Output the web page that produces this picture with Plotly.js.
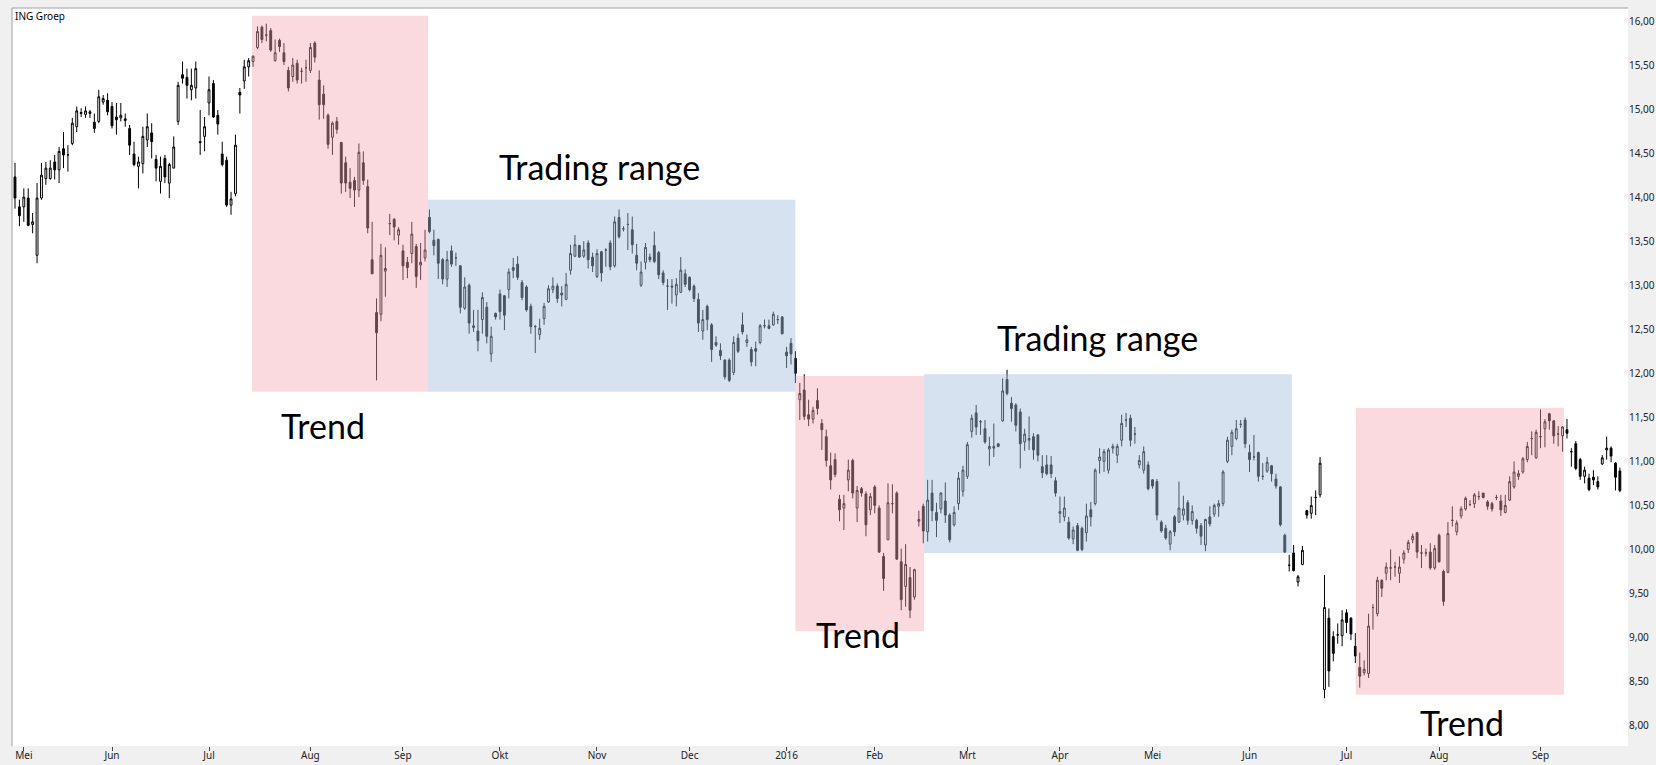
<!DOCTYPE html>
<html>
<head>
<meta charset="utf-8">
<script src="https://cdn.plot.ly/plotly-3.0.1.min.js"></script>
<style>html,body{margin:0;padding:0;background:#f0f0f0;}#chart{width:1656px;height:765px;}</style>
</head>
<body>
<div id="chart"></div>
<script>
// ---- DATA (ING Groep daily candles) ----
const seriesName = 'ING Groep';
const startDate = '2015-04-29';
const holidays = ['2015-05-01','2015-12-25','2016-01-01','2016-03-25','2016-03-28'];

const openPrices = [
14.23,13.89,13.89,13.99,13.69,13.34,13.99,14.21,14.21,14.40,
14.31,14.55,14.48,14.61,14.80,14.95,14.94,14.95,14.85,14.86,
15.08,15.10,15.03,14.91,14.90,14.87,14.78,14.49,14.35,14.38,
14.65,14.73,14.43,14.18,14.44,14.16,14.33,14.86,15.39,15.36,
15.22,15.24,14.63,14.69,15.07,15.29,14.93,14.49,14.42,13.91,
14.04,15.19,15.32,15.48,15.54,
15.70,15.93,15.84,15.89,15.55,
15.78,15.64,15.44,15.37,15.52,15.43,15.47,15.44,15.75,15.33,
15.17,14.93,14.68,14.86,14.62,14.39,14.17,14.19,14.08,14.39,
14.12,13.29,12.69,12.67,13.16,13.70,13.75,13.57,13.39,13.26,
13.36,13.44,13.23,13.31,13.77,13.51,13.52,13.29,13.07,13.39,
13.31,13.22,12.74,13.00,12.52,12.48,12.61,12.75,12.22,12.68,
12.90,12.88,12.95,13.20,13.24,13.03,12.98,12.76,12.53,12.44,
12.62,12.81,12.95,12.99,12.91,12.84,13.17,13.33,13.45,13.33,
13.48,13.32,13.10,13.38,13.40,13.48,13.22,13.77,13.64,13.69,
13.63,13.34,13.00,13.26,13.32,13.45,13.37,13.14,12.99,12.99,
12.89,12.92,13.13,13.09,12.99,12.84,12.48,12.76,12.55,12.35,
12.26,12.15,12.15,12.01,12.40,12.55,12.35,12.27,12.28,12.35,
12.54,12.54,12.55,12.61,12.64,12.24,12.34,12.17,11.70,11.81,
11.53,11.48,11.69,11.43,11.28,10.95,11.02,10.57,10.47,10.79,
11.01,10.47,10.69,10.63,10.45,10.71,10.47,9.92,10.11,10.52,
10.64,9.86,9.58,9.68,9.46,10.32,10.49,10.20,10.64,10.42,
10.46,10.55,10.39,10.28,10.52,10.66,10.83,11.34,11.55,11.45,
11.37,11.14,11.15,11.20,11.46,11.93,11.66,11.64,11.56,11.22,
11.24,11.28,11.30,10.94,10.96,10.96,10.78,10.41,10.37,10.31,
10.12,10.27,10.24,10.19,10.45,10.52,11.01,11.00,10.90,11.15,
11.07,11.24,11.47,11.49,11.31,10.96,10.90,10.96,10.79,10.77,
10.31,10.24,10.06,10.37,10.31,10.39,10.53,10.33,10.33,10.27,
10.05,10.37,10.40,10.49,10.52,11.00,11.17,11.26,11.42,11.47,
11.10,11.05,11.10,10.83,10.89,10.95,10.80,10.71,10.16,9.82,
9.96,9.63,9.83,10.44,10.41,10.59,10.62,8.41,9.22,9.01,
9.03,9.02,9.28,9.22,8.90,8.66,8.60,8.59,9.34,9.27,
9.65,9.73,9.79,9.80,9.73,9.89,10.00,10.11,10.19,9.96,
9.96,9.97,9.79,10.16,9.75,9.74,10.33,10.20,10.38,10.46,
10.51,10.52,10.60,10.64,10.54,10.52,10.59,10.55,10.42,10.56,
10.71,10.83,10.88,11.02,11.26,11.04,11.28,11.37,11.54,11.46,
11.31,11.29,11.36,11.11,11.20,11.02,10.83,10.81,10.82,10.77,
10.97,11.13,11.15,10.98,10.89
];

const highPrices = [
14.39,13.97,14.10,14.10,13.82,14.16,14.39,14.40,14.42,14.48,
14.57,14.74,14.59,14.90,15.03,15.01,15.03,14.99,14.95,15.22,
15.16,15.18,15.08,15.07,15.07,14.95,14.82,14.63,14.46,14.80,
14.95,14.84,14.48,14.46,14.48,14.39,14.69,15.31,15.54,15.46,
15.46,15.54,14.99,14.91,15.37,15.33,14.99,14.63,14.46,14.06,
14.71,15.24,15.56,15.58,15.61,
15.94,15.95,15.97,15.92,15.79,
15.80,15.75,15.48,15.58,15.56,15.47,15.56,15.75,15.77,15.44,
15.27,14.95,14.86,14.91,14.63,14.46,14.33,14.23,14.61,14.52,
14.20,13.72,12.85,13.47,13.43,13.81,13.76,13.66,13.46,13.32,
13.72,13.47,13.48,13.63,13.86,13.63,13.53,13.31,13.39,13.45,
13.37,13.23,13.09,13.02,12.72,12.72,12.92,12.81,12.53,12.69,
12.95,12.89,13.19,13.31,13.33,13.06,13.00,12.79,12.55,12.62,
12.80,13.00,13.09,13.02,12.99,13.14,13.46,13.57,13.46,13.50,
13.51,13.37,13.41,13.39,13.42,13.51,13.78,13.86,13.67,13.82,
13.78,13.47,13.27,13.48,13.36,13.61,13.39,13.17,13.07,13.07,
13.08,13.32,13.18,13.10,13.01,12.91,12.72,12.78,12.57,12.42,
12.34,12.16,12.17,12.42,12.45,12.69,12.44,12.30,12.36,12.56,
12.61,12.61,12.70,12.66,12.65,12.30,12.40,12.25,11.89,11.99,
11.70,11.62,11.83,11.48,11.36,11.10,11.09,10.62,10.62,11.02,
11.03,10.72,10.71,10.66,10.64,10.73,10.50,9.96,10.75,10.74,
10.66,10.01,10.06,9.80,9.78,10.44,10.52,10.79,10.79,10.53,
10.65,10.76,10.41,10.49,10.88,10.95,11.22,11.53,11.64,11.47,
11.47,11.28,11.43,11.20,11.94,12.04,11.73,11.66,11.60,11.37,
11.51,11.32,11.31,11.07,11.07,11.06,10.82,10.60,10.60,10.37,
10.26,10.30,10.26,10.52,10.54,10.92,11.15,11.14,11.15,11.20,
11.20,11.53,11.55,11.53,11.39,11.07,11.17,11.00,10.80,10.80,
10.33,10.28,10.22,10.39,10.77,10.61,10.56,10.50,10.35,10.30,
10.35,10.49,10.52,10.56,10.90,11.28,11.36,11.47,11.47,11.50,
11.19,11.30,11.11,10.98,11.05,10.96,10.86,10.72,10.18,9.94,
10.05,9.71,10.04,10.45,10.60,10.67,11.05,9.71,9.33,9.07,
9.16,9.31,9.32,9.23,9.05,8.83,8.74,9.27,9.38,9.69,
9.66,9.85,10.00,9.86,9.92,9.99,10.11,10.18,10.20,10.05,
10.01,10.07,10.05,10.18,9.77,10.31,10.49,10.33,10.49,10.60,
10.56,10.64,10.66,10.64,10.56,10.54,10.62,10.62,10.62,10.83,
11.00,10.90,11.05,11.22,11.34,11.36,11.59,11.48,11.55,11.47,
11.40,11.40,11.48,11.15,11.23,11.04,10.94,10.86,10.90,10.83,
11.07,11.28,11.17,10.99,10.93
];

const lowPrices = [
13.87,13.67,13.72,13.67,13.59,13.25,13.97,14.14,14.20,14.20,
14.16,14.33,14.29,14.59,14.74,14.91,14.90,14.90,14.73,14.84,
15.05,14.93,14.78,14.71,14.86,14.80,14.48,14.35,14.10,14.27,
14.57,14.44,14.18,14.04,14.16,13.99,14.33,14.82,15.29,15.12,
15.10,15.12,14.48,14.52,14.93,14.90,14.71,14.35,13.89,13.80,
14.01,14.95,15.23,15.37,15.48,
15.68,15.75,15.77,15.65,15.54,
15.65,15.50,15.20,15.31,15.29,15.29,15.31,15.41,15.53,14.88,
14.89,14.55,14.48,14.72,14.04,14.06,13.99,13.89,14.00,14.14,
13.59,13.13,11.92,12.59,12.87,13.57,13.51,13.46,13.06,13.08,
13.25,12.97,13.06,13.27,13.59,13.34,13.07,13.01,12.98,13.21,
13.22,12.68,12.72,12.45,12.47,12.25,12.45,12.34,12.13,12.61,
12.61,12.49,12.85,13.08,13.06,12.83,12.70,12.45,12.23,12.38,
12.55,12.80,12.91,12.80,12.76,12.83,13.12,13.32,13.31,13.31,
13.19,13.15,13.08,13.04,13.21,13.17,13.20,13.53,13.61,13.40,
13.36,13.17,12.98,13.18,13.26,13.25,13.07,13.00,12.72,12.79,
12.76,12.91,12.98,12.93,12.81,12.47,12.38,12.49,12.13,12.30,
12.15,11.93,11.90,11.98,12.23,12.44,12.30,12.08,12.08,12.33,
12.51,12.50,12.54,12.56,12.44,12.06,12.10,11.89,11.47,11.47,
11.40,11.43,11.53,11.13,10.94,10.68,10.82,10.32,10.22,10.66,
10.58,10.31,10.60,10.15,10.39,10.41,9.96,9.53,10.11,10.41,
9.88,9.31,9.35,9.22,9.43,10.26,10.07,10.09,10.32,10.14,
10.41,10.30,10.08,10.26,10.45,10.60,10.80,11.27,11.30,11.30,
11.20,10.95,11.05,11.16,11.45,11.75,11.45,11.34,10.92,11.12,
11.13,11.02,11.00,10.81,10.84,10.81,10.60,10.30,10.32,10.11,
10.06,9.98,9.98,10.09,10.26,10.50,10.86,10.88,10.86,11.09,
10.98,11.17,11.39,11.17,11.20,10.92,10.86,10.67,10.69,10.33,
10.19,10.11,9.99,10.15,10.30,10.33,10.28,10.28,10.18,10.05,
9.98,10.26,10.37,10.37,10.49,10.98,11.07,11.24,11.38,11.15,
10.88,11.01,10.77,10.79,10.87,10.77,10.69,10.26,9.96,9.75,
9.75,9.58,9.82,10.35,10.35,10.39,10.59,8.31,8.44,8.73,
8.93,8.90,9.05,8.97,8.71,8.43,8.57,8.54,9.09,9.24,
9.46,9.65,9.65,9.69,9.62,9.84,9.96,10.07,9.90,9.79,
9.92,9.77,9.77,9.85,9.36,9.73,10.26,10.16,10.35,10.44,
10.49,10.47,10.56,10.58,10.45,10.43,10.56,10.38,10.41,10.55,
10.69,10.79,10.86,10.99,11.07,11.03,11.15,11.16,11.36,11.20,
11.17,11.11,11.26,10.94,10.90,10.79,10.75,10.66,10.73,10.68,
10.96,11.02,10.99,10.67,10.65
];

const closePrices = [
13.99,13.79,14.00,13.68,13.72,13.99,14.25,14.33,14.33,14.31,
14.52,14.48,14.48,14.84,14.98,14.96,14.98,14.97,14.78,15.14,
15.12,14.97,14.81,14.88,14.93,14.89,14.59,14.37,14.40,14.69,
14.80,14.63,14.33,14.35,14.23,14.37,14.57,15.27,15.35,15.27,
15.27,15.46,14.62,14.80,15.22,14.91,14.83,14.37,13.91,13.98,
14.59,15.16,15.48,15.55,15.60,
15.88,15.79,15.84,15.67,15.64,
15.71,15.54,15.24,15.50,15.33,15.43,15.47,15.70,15.59,15.05,
15.05,14.60,14.84,14.77,14.16,14.16,14.10,14.08,14.51,14.19,
13.65,13.13,12.46,13.34,13.19,13.70,13.66,13.63,13.22,13.20,
13.58,13.10,13.26,13.40,13.61,13.45,13.25,13.07,13.29,13.24,
13.31,12.75,12.98,12.57,12.54,12.37,12.86,12.42,12.42,12.64,
12.70,12.66,13.15,13.17,13.09,12.86,12.72,12.53,12.53,12.51,
12.76,12.96,12.99,12.85,12.89,13.01,13.36,13.46,13.32,13.40,
13.29,13.22,13.36,13.14,13.40,13.21,13.72,13.55,13.64,13.69,
13.46,13.25,13.15,13.43,13.29,13.27,13.12,13.03,12.99,12.98,
13.01,13.17,13.01,12.95,12.85,12.57,12.61,12.61,12.27,12.32,
12.20,11.96,11.92,12.35,12.25,12.47,12.38,12.13,12.25,12.54,
12.54,12.51,12.67,12.61,12.45,12.20,12.22,12.00,11.77,11.51,
11.48,11.58,11.60,11.36,11.01,10.79,10.85,10.45,10.52,10.90,
10.64,10.67,10.64,10.28,10.60,10.50,9.97,9.67,10.53,10.52,
9.89,9.43,9.83,9.31,9.77,10.34,10.21,10.56,10.44,10.33,
10.64,10.39,10.11,10.42,10.81,10.90,11.19,11.49,11.39,11.45,
11.22,11.17,11.17,11.17,11.80,11.77,11.60,11.41,11.20,11.31,
11.26,11.13,11.07,10.87,10.86,10.86,10.64,10.43,10.47,10.13,
10.22,9.99,10.00,10.38,10.37,10.90,11.05,11.11,11.13,11.17,
11.17,11.43,11.47,11.24,11.31,11.01,11.11,10.69,10.72,10.39,
10.21,10.13,10.20,10.20,10.47,10.46,10.33,10.43,10.24,10.15,
10.34,10.29,10.50,10.52,10.88,11.24,11.33,11.37,11.42,11.20,
11.02,11.05,10.83,10.83,10.99,10.86,10.72,10.28,9.97,9.82,
9.76,9.69,9.99,10.39,10.50,10.59,10.98,9.34,8.62,8.82,
9.03,9.20,9.17,9.04,8.79,8.56,8.64,9.13,9.34,9.65,
9.56,9.80,9.79,9.80,9.80,9.96,10.08,10.15,9.97,9.96,
9.96,9.79,10.01,9.86,9.41,10.18,10.33,10.30,10.46,10.58,
10.51,10.62,10.60,10.59,10.49,10.46,10.59,10.45,10.50,10.77,
10.88,10.86,11.03,11.17,11.26,11.33,11.28,11.45,11.46,11.29,
11.31,11.39,11.32,11.11,10.92,10.83,10.90,10.68,10.79,10.71,
11.04,11.15,11.06,10.82,10.67
];

const monthTickDates = ['2015-05-04','2015-06-01','2015-07-01','2015-08-03','2015-09-01','2015-10-01','2015-11-02','2015-12-01','2016-01-04','2016-02-01','2016-03-01','2016-04-01','2016-05-02','2016-06-01','2016-07-01','2016-08-01','2016-09-01'];
const monthLabels = ['Mei','Jun','Jul','Aug','Sep','Okt','Nov','Dec','2016','Feb','Mrt','Apr','Mei','Jun','Jul','Aug','Sep'];
const priceTicks = [8,8.5,9,9.5,10,10.5,11,11.5,12,12.5,13,13.5,14,14.5,15,15.5,16];

// Highlighted zones (candle index range, price range) and labels
const zoneKinds  = ['trend','range','trend','range','trend'];
const zoneStart  = [53.75, 93.67, 177.0, 206.2, 304.1];
const zoneEnd    = [93.67, 177.0, 206.2, 289.6, 351.3];
const zoneLow    = [11.79, 11.79, 9.07, 9.96, 8.35];
const zoneHigh   = [16.06, 13.97, 11.97, 11.99, 11.61];
const labelTexts = ['Trend','Trading range','Trend','Trading range','Trend'];
const labelX     = [69.9, 132.6, 191.1, 245.6, 328.2];
const labelY     = [11.41, 14.35, 9.03, 12.41, 8.03];

// ---- trading calendar (weekdays minus exchange holidays) ----
function tradingDays(start, n) {
  const out = [];
  const d = new Date(start + 'T00:00:00Z');
  while (out.length < n) {
    const wd = d.getUTCDay();
    const s = d.toISOString().slice(0, 10);
    if (wd !== 0 && wd !== 6 && holidays.indexOf(s) < 0) out.push(s);
    d.setUTCDate(d.getUTCDate() + 1);
  }
  return out;
}
const dates = tradingDays(startDate, openPrices.length);

const trace = {
  type: 'candlestick',
  x: dates, open: openPrices, high: highPrices, low: lowPrices, close: closePrices,
  name: seriesName,
  increasing: {line: {color: '#000000', width: 1}, fillcolor: '#ffffff'},
  decreasing: {line: {color: '#000000', width: 1}, fillcolor: '#000000'},
  whiskerwidth: 0,
  hoverinfo: 'skip'
};

const zoneColor = {trend: 'rgb(244,166,176)', range: 'rgb(162,189,221)'};
const zoneOpacity = {trend: 0.41, range: 0.444};
const shapes = zoneKinds.map((k, i) => ({
  type: 'rect', xref: 'x', yref: 'y', layer: 'above',
  x0: zoneStart[i], x1: zoneEnd[i], y0: zoneLow[i], y1: zoneHigh[i],
  fillcolor: zoneColor[k], opacity: zoneOpacity[k], line: {width: 0}
}));
shapes.push({type: 'line', xref: 'paper', yref: 'paper', x0: 0, x1: 1, y0: 1, y1: 1, layer: 'above', line: {color: '#a0a0a0', width: 1}});
shapes.push({type: 'line', xref: 'paper', yref: 'paper', x0: 0, x1: 0, y0: 0, y1: 1, layer: 'above', line: {color: '#a0a0a0', width: 1}});

const annotations = labelTexts.map((t, i) => ({
  text: t, x: labelX[i], y: labelY[i], xref: 'x', yref: 'y',
  showarrow: false, xanchor: 'center', yanchor: 'middle',
  font: {family: 'Lato, "Open Sans", sans-serif', size: 34, color: '#000000'}
}));
annotations.push({
  text: seriesName, xref: 'paper', yref: 'paper', x: 0.0006, y: 0.989,
  xanchor: 'left', yanchor: 'middle', showarrow: false,
  font: {family: '"Noto Sans", sans-serif', size: 10, color: '#000000'}
});

const layout = {
  width: 1656, height: 765,
  margin: {l: 12, r: 28, t: 8, b: 19, pad: 0},
  paper_bgcolor: '#f0f0f0', plot_bgcolor: '#ffffff',
  separators: ',.',
  showlegend: false,
  boxgap: 0.4,
  hovermode: false,
  xaxis: {
    type: 'category', range: [-0.68, 365.84],
    rangeslider: {visible: false},
    tickmode: 'array', tickvals: monthTickDates, ticktext: monthLabels,
    ticks: 'outside', ticklen: 4, tickwidth: 1, tickcolor: '#444444',
    ticklabelstandoff: -4,
    showgrid: false, zeroline: false, showline: false,
    tickfont: {family: '"Noto Sans", sans-serif', size: 10, color: '#222222'},
    fixedrange: true
  },
  yaxis: {
    side: 'right', range: [7.768, 16.148],
    tickmode: 'array', tickvals: priceTicks, tickformat: '.2f',
    ticks: '', ticklen: 0, showgrid: false, zeroline: false, showline: false,
    tickfont: {family: '"Noto Sans", sans-serif', size: 10, color: '#222222'},
    fixedrange: true
  },
  shapes: shapes,
  annotations: annotations
};

Plotly.newPlot('chart', [trace], layout, {displayModeBar: false, staticPlot: true});
</script>
</body>
</html>
